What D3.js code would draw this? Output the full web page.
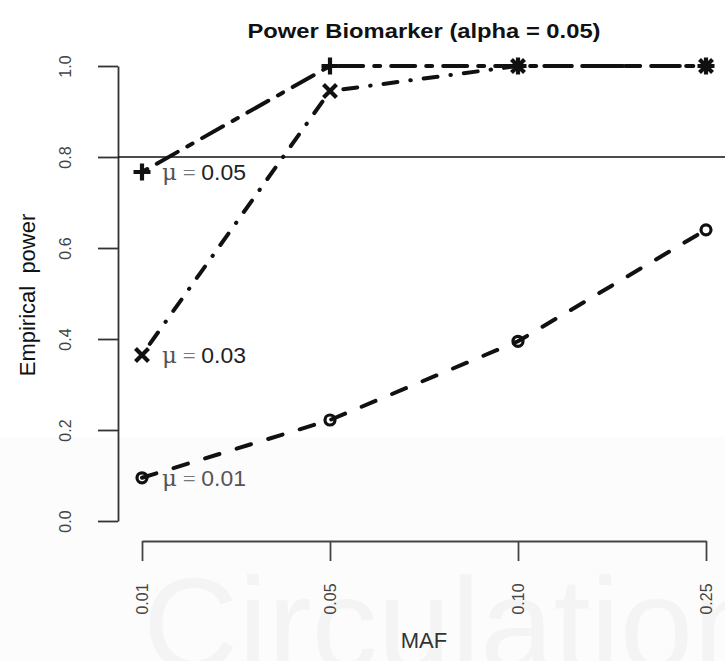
<!DOCTYPE html>
<html><head><meta charset="utf-8">
<script src="https://cdn.jsdelivr.net/npm/d3@7/dist/d3.min.js"></script>
<style>body{margin:0;background:#fff} svg{display:block}</style>
</head><body><svg id="c" width="725" height="661"></svg>
<script>
const categories = ["0.01", "0.05", "0.10", "0.25"];
const power_mu005 = [0.767, 1.0, 1.0, 1.0];
const power_mu003 = [0.365, 0.945, 1.0, 1.0];
const power_mu001 = [0.095, 0.222, 0.395, 0.640];
const seriesMu = ["0.05", "0.03", "0.01"];
const yTicks = [0, 0.2, 0.4, 0.6, 0.8, 1.0];
const threshold = 0.8;
const titleText = "Power Biomarker (alpha = 0.05)";
const xTitle = "MAF";
const yTitle = "Empirical  power";
const watermark = "Circulation";

const svg = d3.select("#c");
const W = 725, H = 661;
const x = d3.scalePoint().domain(categories).range([142, 706]);
const y = d3.scaleLinear().domain([0, 1]).range([521, 66]);
const plotLeft = 118;

// background
svg.append("rect").attr("width", W).attr("height", H).attr("fill", "#fff");
svg.append("rect").attr("x", 0).attr("y", 437).attr("width", W).attr("height", H - 437).attr("fill", "#fcfcfc");
svg.append("text").attr("x", 143).attr("y", 670).attr("font-family", "Liberation Sans, Arial, sans-serif")
  .attr("font-size", 132).attr("fill", "#f4f4f4").text(watermark);

// title
svg.append("text").attr("x", 424).attr("y", 38).attr("text-anchor", "middle")
  .attr("font-family", "Liberation Sans, Arial, sans-serif").attr("font-weight", "bold")
  .attr("font-size", 21).attr("fill", "#111")
  .attr("textLength", 353).attr("lengthAdjust", "spacingAndGlyphs").text(titleText);

// y axis
const yAxis = svg.append("g").attr("transform", `translate(${plotLeft},0)`)
  .call(d3.axisLeft(y).tickValues(yTicks).tickSize(20).tickSizeOuter(0).tickFormat(d3.format(".1f")));
yAxis.select(".domain").attr("stroke", "#333").attr("stroke-width", 1.8);
yAxis.selectAll(".tick line").attr("stroke", "#333").attr("stroke-width", 1.8);
yAxis.selectAll(".tick text").attr("transform", "rotate(-90)").attr("x", 0).attr("y", -53).attr("dy", null)
  .attr("text-anchor", "middle").attr("dominant-baseline", "central")
  .attr("font-family", "Liberation Sans, Arial, sans-serif").attr("font-size", 16).attr("fill", "#444");

// x axis
const xAxis = svg.append("g").attr("transform", "translate(0,541)")
  .call(d3.axisBottom(x).tickSize(20).tickSizeOuter(0));
xAxis.select(".domain").attr("stroke", "#444").attr("stroke-width", 1.8);
xAxis.selectAll(".tick line").attr("stroke", "#444").attr("stroke-width", 1.8);
xAxis.selectAll(".tick text").attr("transform", "rotate(-90)").attr("x", -58).attr("y", 0).attr("dy", null)
  .attr("text-anchor", "middle").attr("dominant-baseline", "central")
  .attr("font-family", "Liberation Sans, Arial, sans-serif").attr("font-size", 16).attr("fill", "#444");

// axis titles
svg.append("text").attr("x", 424).attr("y", 648).attr("text-anchor", "middle")
  .attr("font-family", "Liberation Sans, Arial, sans-serif").attr("font-size", 22).attr("fill", "#333").text(xTitle);
svg.append("text").attr("transform", "translate(27,295) rotate(-90)").attr("text-anchor", "middle")
  .attr("dominant-baseline", "central").style("white-space", "pre")
  .attr("font-family", "Liberation Sans, Arial, sans-serif").attr("font-size", 22).attr("fill", "#111").text(yTitle);

// threshold line
svg.append("line").attr("x1", plotLeft).attr("x2", W).attr("y1", y(threshold)).attr("y2", y(threshold))
  .attr("stroke", "#111").attr("stroke-width", 1.5);

const series = [
  {mu: seriesMu[0], values: power_mu005, dash: "6,11,24,11", marker: "plus", textFill: "#222"},
  {mu: seriesMu[1], values: power_mu003, dash: "0.5,13,14,13", marker: "cross", textFill: "#222"},
  {mu: seriesMu[2], values: power_mu001, dash: "15,18", marker: "circle", textFill: "#555"}
];

// labels (drawn under lines)
series.forEach(s => {
  const t = svg.append("text").attr("x", x(categories[0]) + 20).attr("y", y(s.values[0]))
    .attr("dominant-baseline", "central").attr("font-size", 22)
    .attr("textLength", 84).attr("lengthAdjust", "spacingAndGlyphs");
  t.append("tspan").attr("font-family", "DejaVu Serif, Liberation Serif, serif").attr("fill", "#555").text("\u03bc");
  t.append("tspan").attr("font-family", "Liberation Serif, serif").attr("fill", "#777").text(" = ");
  t.append("tspan").attr("font-family", "Liberation Sans, Arial, sans-serif").attr("fill", s.textFill).text(s.mu);
});

const line = d3.line().x((d, i) => x(categories[i])).y(d => y(d));
series.forEach(s => {
  svg.append("path").datum(s.values).attr("d", line).attr("fill", "none")
    .attr("stroke", "#111").attr("stroke-width", 4).attr("stroke-linecap", "round")
    .attr("stroke-dasharray", s.dash);
});

// markers
series.forEach(s => {
  const g = svg.append("g");
  s.values.forEach((v, i) => {
    const cx = x(categories[i]), cy = y(v);
    if (s.marker === "circle") {
      g.append("circle").attr("cx", cx).attr("cy", cy).attr("r", 5)
        .attr("fill", "none").attr("stroke", "#111").attr("stroke-width", 3.2);
    } else if (s.marker === "plus") {
      const r = 8.5;
      g.append("path").attr("d", `M${cx - r},${cy}H${cx + r}M${cx},${cy - r}V${cy + r}`)
        .attr("stroke", "#111").attr("stroke-width", 4.2);
    } else {
      const r = 6.5;
      g.append("path").attr("d", `M${cx - r},${cy - r}L${cx + r},${cy + r}M${cx - r},${cy + r}L${cx + r},${cy - r}`)
        .attr("stroke", "#111").attr("stroke-width", 4.2);
    }
  });
});
</script></body></html>
